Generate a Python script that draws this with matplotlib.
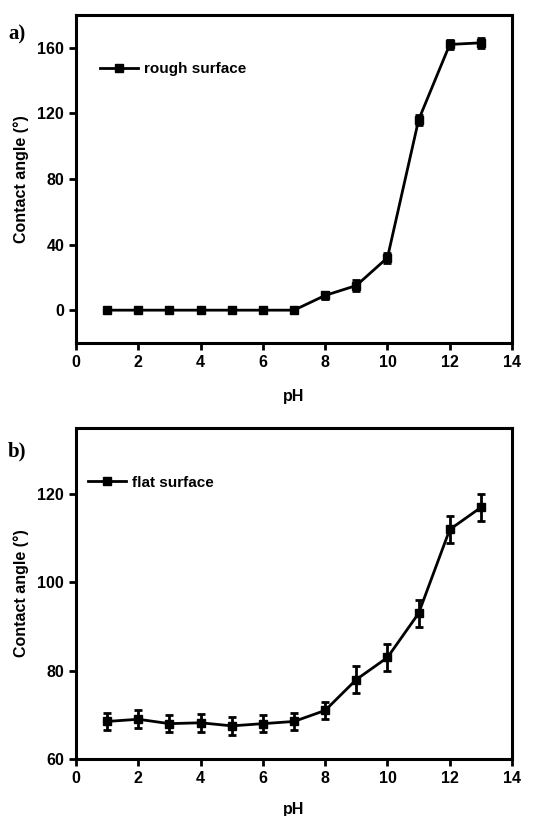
import matplotlib
matplotlib.use("Agg")
import matplotlib.pyplot as plt
from matplotlib.lines import Line2D

ph = [1, 2, 3, 4, 5, 6, 7, 8, 9, 10, 11, 12, 13]
rough_angle = [0, 0, 0, 0, 0, 0, 0, 9, 15, 32, 116, 162, 163]
rough_err = [0, 0, 0, 0, 0, 0, 0, 2, 3.5, 3, 3, 3, 3]
flat_angle = [68.5, 69.0, 68.0, 68.2, 67.5, 68.0, 68.5, 71.0, 78.0, 83.0, 93.0, 112.0, 117.0]
flat_err = [2, 2, 2, 2, 2, 2, 2, 2, 3, 3, 3, 3, 3]

xticks = [0, 2, 4, 6, 8, 10, 12, 14]
rough_yticks = [0, 40, 80, 120, 160]
flat_yticks = [60, 80, 100, 120]

plt.rcParams['font.family'] = ['Liberation Sans', 'DejaVu Sans']
plt.rcParams['font.weight'] = 'bold'

fig = plt.figure(figsize=(5.39, 8.16), dpi=100)
ax1 = fig.add_axes([0.141, 0.5797, 0.809, 0.402])
ax2 = fig.add_axes([0.141, 0.0699, 0.809, 0.4056])

def style(ax, yticks, ylim, label, legx, xlabelpad):
    ax.set_xlim(0, 14)
    ax.set_ylim(*ylim)
    ax.set_xticks(xticks)
    ax.set_yticks(yticks)
    for s in ax.spines.values():
        s.set_linewidth(2.2)
    ax.tick_params(direction='out', length=5, width=2, labelsize=11.5, top=False, right=False)
    for t in ax.get_xticklabels() + ax.get_yticklabels():
        t.set_fontweight('bold')
    ax.set_xlabel('pH', fontsize=11.5, fontweight='bold', labelpad=xlabelpad)
    ax.set_ylabel('Contact angle (°)', fontsize=11.5, fontweight='bold', labelpad=6)
    h = Line2D([], [], color='black', lw=2, marker='s', markersize=6)
    ax.legend([h], [label], loc='center left', bbox_to_anchor=(legx, 0.835), frameon=False,
              borderaxespad=0, borderpad=0, handlelength=2.5, handletextpad=0.35,
              prop={'weight': 'bold', 'size': 11})

ax1.errorbar(ph, rough_angle, yerr=rough_err, color='black', lw=2, marker='s',
             markersize=6, capsize=3, elinewidth=2, capthick=2)
style(ax1, rough_yticks, (-20, 180), 'rough surface', 0.055, 13.5)
ax2.errorbar(ph, flat_angle, yerr=flat_err, color='black', lw=2, marker='s',
             markersize=6, capsize=3, elinewidth=2, capthick=2)
style(ax2, flat_yticks, (60, 135), 'flat surface', 0.0275, 12)

fig.text(0.015, 0.952, 'a)', fontsize=15, fontweight='bold', family='Liberation Serif')
fig.text(0.015, 0.440, 'b)', fontsize=15, fontweight='bold', family='Liberation Serif')

fig.savefig('out.png', dpi=100)
